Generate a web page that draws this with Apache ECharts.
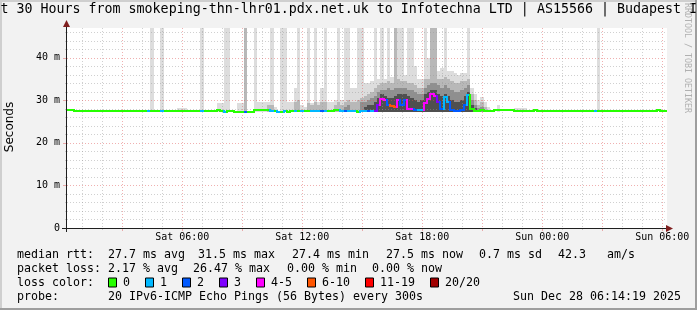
<!DOCTYPE html>
<html><head><meta charset="utf-8">
<script src="https://cdn.jsdelivr.net/npm/echarts@6/dist/echarts.min.js"></script>
<style>html,body{margin:0;padding:0;background:#f2f2f2;overflow:hidden}#c{width:697px;height:310px}</style>
</head><body><div id="c"></div>
<script>
const _ = null;
// ---------------- texts ----------------
const titleText = 'Last 30 Hours from smokeping-thn-lhr01.pdx.net.uk to Infotechna LTD | AS15566 | Budapest IX';
const yAxisTitle = 'Seconds';
const watermarkText = 'RRDTOOL / TOBI OETIKER';
const xLabelValues = [6, 12, 18, 24, 30];
const xLabelTexts = ['Sat 06:00', 'Sat 12:00', 'Sat 18:00', 'Sun 00:00', 'Sun 06:00'];
const yMin = 0, yMax = 47, yLabelStep = 10;
// time axis in hours since Sat 00:00; window 00:14:19 .. Sun 06:14:19
const xStart = 0.2386, xEnd = 30.2386, stepHours = 1 / 6;
// ---------------- data (ms) ----------------
const median = [
27.7,27.7,27.45,27.45,27.45,27.45,27.45,27.45,27.45,27.45,
27.45,27.45,27.45,27.45,27.45,27.45,27.45,27.45,27.45,27.45,
27.45,27.45,27.45,27.45,27.45,27.45,27.45,27.45,27.45,27.45,
27.45,27.45,27.45,27.6,27.6,27.45,27.45,27.6,27.45,27.45,
27.45,27.45,27.45,27.45,27.45,27.7,27.45,27.25,27.45,27.45,
27.25,27.25,27.25,27.25,27.25,27.25,27.7,27.7,27.7,27.7,
27.7,27.5,27.45,27.25,27.25,27.45,27.25,27.45,27.5,27.45,
27.5,27.45,27.45,27.5,27.4,27.4,27.4,27.4,27.45,27.45,
27.7,27.7,27.5,27.5,27.5,27.5,27.5,27.25,27.5,27.5,
27.5,27.5,27.6,29.0,30.3,30.0,28.8,28.7,28.5,30.0,
29.0,30.0,27.9,27.9,27.8,27.7,27.8,29.3,30.2,31.5,
31.0,29.5,28.0,30.8,29.5,27.7,27.5,27.6,27.8,28.8,
31.2,27.9,27.6,27.6,27.7,27.45,27.45,27.45,27.7,27.7,
27.7,27.7,27.7,27.7,27.45,27.45,27.45,27.45,27.45,27.45,
27.7,27.45,27.45,27.45,27.45,27.45,27.45,27.45,27.45,27.45,
27.45,27.45,27.45,27.45,27.45,27.45,27.45,27.45,27.45,27.45,
27.45,27.45,27.45,27.45,27.45,27.45,27.45,27.45,27.45,27.45,
27.45,27.45,27.45,27.45,27.45,27.45,27.45,27.7,27.45,27.45];
const loss = [
0,0,0,0,0,0,0,0,0,0, 0,0,0,0,0,0,0,0,0,0,
0,0,0,0,1,0,0,0,1,0, 0,0,0,0,0,0,0,0,0,0,
1,0,0,0,0,0,0,1,0,0, 0,0,0,2,0,0,0,0,0,0,
0,1,0,1,0,1,0,0,1,0, 1,0,0,1,1,1,2,1,0,0,
0,0,1,2,1,1,1,0,1,1, 2,1,3,3,4,4,2,7,7,4,
2,2,4,4,2,1,1,4,4,5, 4,3,2,1,1,2,2,2,2,2,
1,0,0,0,0,0,0,0,0,0, 0,0,0,0,0,0,0,0,0,0,
0,0,0,0,0,0,0,0,0,0, 0,0,0,0,0,0,0,0,1,0,
0,0,0,0,0,0,0,0,0,0, 0,0,0,0,0,0,0,0,0,0];
const smokeFloor = 27.3;
const smokeMax = [
_,_,_,_,_,_,_,_,_,_, _,_,_,_,_,_,_,_,_,_,
_,_,_,_,_,47,_,_,47,_, _,_,_,28.3,28.3,28.3,_,_,_,_,
47,_,_,_,_,29.3,29.3,47,47,_, _,29.3,29.3,47,_,_,47,29.7,29.7,29.7,
29.7,47,28.5,_,47,47,29.7,29.5,32.8,47, 29,28.5,47,29.3,47,29.7,32.8,47,29.7,29.7,
30,47,30,47,47,33,33,47,47,34, 34,34.5,47,35,47,35,47,35.5,47,47,
47,36,47,47,38,35,35,47,40,47, 47,37,37.5,47,37,37,36.5,36,36.5,36.5,
47,33,31.5,30,30.7,29.5,28.5,_,_,29, _,_,_,_,28.2,28.2,28.2,28.2,_,_,
_,_,_,_,_,_,_,_,_,_, _,_,_,_,_,_,_,_,_,47,
_,_,_,_,_,_,_,_,_,_, _,_,_,_,_,_,_,_,_,_];
const smokeHi = [
_,_,_,_,_,_,_,_,_,_, _,_,_,_,_,_,_,_,_,_,
_,_,_,_,_,_,_,_,_,_, _,_,_,_,_,_,_,_,_,_,
_,_,_,_,_,_,_,_,_,_, _,_,_,47,_,_,_,_,_,_,
28.9,28.9,_,_,_,_,_,_,29.5,30, _,_,29.3,28.8,29.5,29,29.5,29.5,_,_,
29,29.5,29,29.5,30,29.5,29.5,30,30.5,31, 31.5,32,33,33.5,34,34,34.5,34,47,35,
34.5,34.5,34,34,33.5,33,33,35,35,47, 47,35,35,35.5,35,34.5,34,34,34.5,34.5,
35,31.5,30,29,29.5,28.5,_,_,_,_, _,_,_,_,_,_,_,_,_,_,
_,_,_,_,_,_,_,_,_,_, _,_,_,_,_,_,_,_,_,_,
_,_,_,_,_,_,_,_,_,_, _,_,_,_,_,_,_,_,_,_];
const smokeMid = [
_,_,_,_,_,_,_,_,_,_, _,_,_,_,_,_,_,_,_,_,
_,_,_,_,_,_,_,_,_,_, _,_,_,_,_,_,_,_,_,_,
_,_,_,_,_,_,_,_,_,_, _,_,_,_,_,_,_,_,_,_,
_,_,_,_,_,_,_,_,_,_, _,_,_,_,_,_,_,_,_,_,
_,_,_,28.5,29,_,_,_,29.5,29.5, 30,30.5,31,32,32.5,32.5,33,32.5,33,33,
33,33,32.5,32.5,32,31.5,31.5,33,33.5,34, 34,33.5,33,33.5,33,32.5,32,32,32.5,33,
33.5,30,29,28.3,28.5,_,_,_,_,_, _,_,_,_,_,_,_,_,_,_,
_,_,_,_,_,_,_,_,_,_, _,_,_,_,_,_,_,_,_,_,
_,_,_,_,_,_,_,_,_,_, _,_,_,_,_,_,_,_,_,_];
const smokeDark = [
_,_,_,_,_,_,_,_,_,_, _,_,_,_,_,_,_,_,_,_,
_,_,_,_,_,_,_,_,_,_, _,_,_,_,_,_,_,_,_,_,
_,_,_,_,_,_,_,_,_,_, _,_,_,_,_,_,_,_,_,_,
_,_,_,_,_,_,_,_,_,_, _,_,_,_,_,_,_,_,_,_,
_,_,_,_,_,_,_,_,_,28.5, 29,29,29.5,30.5,31.5,31,30.5,30.5,31,31.5,
31.5,31.5,31,30.5,30,29.5,30,31.5,32,32.5, 32.5,31.5,31,31.5,31,30,29.5,29.5,30,31,
32,29,28.2,_,_,_,_,_,_,_, _,_,_,_,_,_,_,_,_,_,
_,_,_,_,_,_,_,_,_,_, _,_,_,_,_,_,_,_,_,_,
_,_,_,_,_,_,_,_,_,_, _,_,_,_,_,_,_,_,_,_];
// ---------------- legend ----------------
const lossColors = ['#26ff00', '#00b8ff', '#0059ff', '#7e00ff', '#ff00ff', '#ff5500', '#ff0000', '#a10000'];
const lossLabels = ['0', '1', '2', '3', '4-5', '6-10', '11-19', '20/20'];
const lossUpper = [0, 1, 2, 3, 5, 10, 19, 20];
const rttLabel = 'median rtt:';
const rttStats = ['27.7 ms avg', '31.5 ms max', '27.4 ms min', '27.5 ms now', '0.7 ms sd', '42.3', 'am/s'];
const lossLabel = 'packet loss:';
const lossStats = ['2.17 % avg', '26.47 % max', '0.00 % min', '0.00 % now'];
const lossColorLabel = 'loss color:';
const probeLabel = 'probe:';
const probeText = '20 IPv6-ICMP Echo Pings (56 Bytes) every 300s';
const dateText = 'Sun Dec 28 06:14:19 2025';

// ---------------- layout / styles ----------------
const MONO = '"DejaVu Sans Mono", monospace';
const smokeShades = ['#dddddd', '#b8b8b8', '#8f8f8f', '#4f4f4f'];
const minorGrid = 'rgba(150,150,150,0.45)';
const majorGrid = 'rgba(222,79,79,0.45)';
const axisCol = '#1f1f1f';
const arrowCol = '#801f1f';

function lossColor(l) {
  for (let k = 0; k < lossUpper.length; k++) if (l <= lossUpper[k]) return lossColors[k];
  return lossColors[lossColors.length - 1];
}
const rows = median.map((m, i) => [
  xStart + i * stepHours, xStart + (i + 1) * stepHours, m, loss[i],
  smokeMax[i] == null ? -1 : smokeMax[i], smokeHi[i] == null ? -1 : smokeHi[i],
  smokeMid[i] == null ? -1 : smokeMid[i], smokeDark[i] == null ? -1 : smokeDark[i],
  i > 0 ? median[i - 1] : m
]);
const vGrid = [], hGrid = [];
for (let h = Math.ceil(xStart); h <= Math.floor(xEnd); h++) vGrid.push([h, h % 3 === 0 ? 1 : 0]);
for (let v = 2; v < yMax; v += 2) hGrid.push([v, v % 10 === 0 ? 1 : 0]);

function renderSmoke(params, api) {
  const t0 = api.value(0), t1 = api.value(1);
  const x0 = Math.round(api.coord([t0, yMin])[0]);
  const x1 = Math.round(api.coord([t1, yMin])[0]);
  const yb = Math.round(api.coord([t0, smokeFloor])[1]);
  const ch = [];
  [4, 5, 6, 7].forEach((d, k) => {
    const v = api.value(d);
    if (v > 0) {
      const yt = Math.round(api.coord([t0, v])[1]);
      ch.push({ type: 'rect', shape: { x: x0, y: yt, width: x1 - x0, height: yb - yt }, style: { fill: smokeShades[k] } });
    }
  });
  return { type: 'group', children: ch };
}
function renderMedian(params, api) {
  const t0 = api.value(0), t1 = api.value(1);
  const x0 = Math.round(api.coord([t0, yMin])[0]);
  const x1 = Math.round(api.coord([t1, yMin])[0]);
  const y = Math.round(api.coord([t0, api.value(2)])[1]);
  const yp = Math.round(api.coord([t0, api.value(8)])[1]);
  const c = lossColor(api.value(3));
  const ch = [{ type: 'rect', shape: { x: x0, y: y - 1, width: x1 - x0, height: 2 }, style: { fill: c } }];
  if (yp !== y) ch.push({ type: 'rect', shape: { x: x0 - 1, y: Math.min(y, yp) - 1, width: 2, height: Math.abs(y - yp) + 2 }, style: { fill: c } });
  return { type: 'group', children: ch };
}
function renderVGrid(params, api) {
  const v = api.value(0), major = api.value(1);
  const x = Math.round(api.coord([v, yMin])[0]) + 0.5;
  const yb = Math.round(api.coord([v, yMin])[1]);
  const yt = Math.round(api.coord([v, yMax])[1]);
  const col = major ? majorGrid : minorGrid;
  return { type: 'group', children: [
    { type: 'line', shape: { x1: x, y1: yt, x2: x, y2: yb }, style: { stroke: col, lineWidth: 1, lineDash: [1, 2] } },
    { type: 'line', shape: { x1: x, y1: yb, x2: x, y2: yb + (major ? 3 : 2) }, style: { stroke: col, lineWidth: 1 } }
  ] };
}
function renderHGrid(params, api) {
  const v = api.value(0), major = api.value(1);
  const y = Math.round(api.coord([xStart, v])[1]) + 0.5;
  const xl = Math.round(api.coord([xStart, v])[0]);
  const xr = Math.round(api.coord([xEnd, v])[0]);
  const col = major ? majorGrid : minorGrid;
  return { type: 'group', children: [
    { type: 'line', shape: { x1: xl, y1: y, x2: xr, y2: y }, style: { stroke: col, lineWidth: 1, lineDash: [1, 2] } },
    { type: 'line', shape: { x1: xl - (major ? 4 : 2), y1: y, x2: xl, y2: y }, style: { stroke: col, lineWidth: 1 } }
  ] };
}

// ---------------- static graphics (frame, title, legend) ----------------
const g = [];
g.push({ type: 'rect', shape: { x: 0, y: 0, width: 697, height: 2 }, style: { fill: '#cfcfcf' }, z: 0 });
g.push({ type: 'rect', shape: { x: 0, y: 0, width: 2, height: 310 }, style: { fill: '#cfcfcf' }, z: 0 });
g.push({ type: 'rect', shape: { x: 0, y: 308, width: 697, height: 2 }, style: { fill: '#9e9e9e' }, z: 0 });
g.push({ type: 'rect', shape: { x: 695, y: 0, width: 2, height: 310 }, style: { fill: '#9e9e9e' }, z: 0 });
g.push({ type: 'text', x: -23.5, y: 10, style: { text: titleText, font: '13.3px ' + MONO, fill: '#000', align: 'left', verticalAlign: 'middle' }, z: 5 });
g.push({ type: 'text', x: 687, y: 58, rotation: -Math.PI / 2, style: { text: watermarkText, font: '8.3px ' + MONO, fill: '#b0b0b0', align: 'center', verticalAlign: 'middle' }, z: 5 });
g.push({ type: 'text', x: 10, y: 127, rotation: Math.PI / 2, style: { text: yAxisTitle, font: '12px "DejaVu Sans", sans-serif', fill: '#000', align: 'center', verticalAlign: 'middle' }, z: 5 });
// axes
g.push({ type: 'line', shape: { x1: 62, y1: 228.5, x2: 670, y2: 228.5 }, style: { stroke: axisCol, lineWidth: 1 }, z: 20 });
g.push({ type: 'polygon', shape: { points: [[666, 225], [673, 228.5], [666, 232]] }, style: { fill: arrowCol }, z: 21 });
g.push({ type: 'line', shape: { x1: 66.5, y1: 232, x2: 66.5, y2: 24 }, style: { stroke: axisCol, lineWidth: 1 }, z: 20 });
g.push({ type: 'polygon', shape: { points: [[63, 27], [66.5, 20], [70, 27]] }, style: { fill: arrowCol }, z: 21 });
// legend rows
const LF = '11.63px ' + MONO;
function txt(s, x, y, align) { g.push({ type: 'text', x: x, y: y, style: { text: s, font: LF, fill: '#000', align: align || 'left', verticalAlign: 'middle' }, z: 5 }); }
const row = [254.5, 268.5, 282.5, 296.5];
txt(rttLabel, 17, row[0]);
[108, 198, 292, 386, 479, 558, 607].forEach((x, k) => txt(rttStats[k], x, row[0]));
txt(lossLabel, 17, row[1]);
[108, 193, 287, 372].forEach((x, k) => txt(lossStats[k], x, row[1]));
txt(lossColorLabel, 17, row[2]);
const boxX = [108, 145, 182, 219, 256, 307, 365, 430];
lossColors.forEach((c, k) => {
  g.push({ type: 'rect', shape: { x: boxX[k] + 0.5, y: row[2] - 4.5, width: 8, height: 9 }, style: { fill: c, stroke: '#000', lineWidth: 1 }, z: 5 });
  txt(lossLabels[k], boxX[k] + 15, row[2]);
});
txt(probeLabel, 17, row[3]);
txt(probeText, 108, row[3]);
txt(dateText, 681, row[3], 'right');

const xLabelMap = {};
xLabelValues.forEach((v, k) => xLabelMap[v] = xLabelTexts[k]);

const chart = echarts.init(document.getElementById('c'), null, { renderer: 'canvas', width: 697, height: 310 });
chart.setOption({
  animation: false,
  backgroundColor: '#f2f2f2',
  grid: { left: 67, top: 28, width: 600, height: 200, show: true, backgroundColor: '#ffffff', borderWidth: 0 },
  xAxis: {
    type: 'value', min: xStart, max: xEnd,
    axisLine: { show: false }, axisTick: { show: false }, splitLine: { show: false },
    axisLabel: { customValues: xLabelValues, formatter: v => xLabelMap[v] || '', color: '#000', fontFamily: 'DejaVu Sans Mono', fontSize: 9.97, margin: 4 }
  },
  yAxis: {
    type: 'value', min: yMin, max: yMax, interval: yLabelStep,
    axisLine: { show: false }, axisTick: { show: false }, splitLine: { show: false },
    axisLabel: { showMaxLabel: false, formatter: v => (v === 0 ? '0' : (v % yLabelStep === 0 ? v + ' m' : '')), color: '#000', fontFamily: 'DejaVu Sans Mono', fontSize: 9.97, margin: 7 }
  },
  graphic: g,
  series: [
    { type: 'custom', name: 'smoke', z: 2, renderItem: renderSmoke, data: rows, encode: { x: [0, 1], y: 2 }, silent: true, clip: true },
    { type: 'custom', name: 'vgrid', z: 3, renderItem: renderVGrid, data: vGrid, encode: { x: 0 }, silent: true },
    { type: 'custom', name: 'hgrid', z: 3, renderItem: renderHGrid, data: hGrid, encode: { y: 0 }, silent: true },
    { type: 'custom', name: 'median', z: 4, renderItem: renderMedian, data: rows, encode: { x: [0, 1], y: 2 }, silent: true, clip: true }
  ]
});
</script></body></html>
